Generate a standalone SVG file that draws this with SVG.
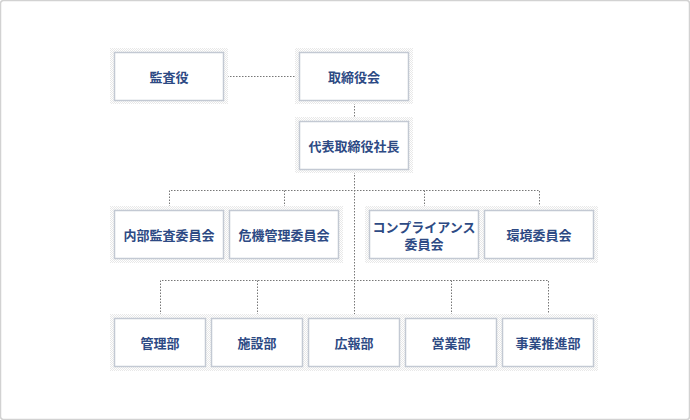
<svg xmlns="http://www.w3.org/2000/svg" width="690" height="420" viewBox="0 0 690 420">
<defs>
<pattern id="chk" width="2" height="2" patternUnits="userSpaceOnUse">
<rect width="2" height="2" fill="#ffffff"/>
<rect width="1" height="1" fill="#e8e8e8"/>
<rect x="1" y="1" width="1" height="1" fill="#e8e8e8"/>
</pattern>
</defs>
<style>
.panel{fill:url(#chk);}
.box{fill:#ffffff;stroke:#c3c9d3;stroke-width:1.5;}
.lbl{font-family:"Noto Sans CJK JP","Noto Sans CJK SC",sans-serif;font-size:13px;font-weight:bold;fill:#2d4a84;text-anchor:middle;dominant-baseline:central;}
.con{fill:none;stroke:#777777;stroke-width:1;stroke-dasharray:1.5 1.5;}
</style>
<rect x="0.5" y="0.5" width="689" height="419" rx="3" fill="#ffffff" stroke="#d2d2d2" stroke-width="1.5"/>
<g id="connectors">
<path class="con" d="M224,76.5 H299"/>
<path class="con" d="M354.5,100 V121"/>
<path class="con" d="M354.5,169 V318"/>
<path class="con" d="M169.5,210 V190.5 H539.5 V210"/>
<path class="con" d="M284.5,190.5 V210"/>
<path class="con" d="M424.5,190.5 V210"/>
<path class="con" d="M160.5,318 V280.5 H548.5 V318"/>
<path class="con" d="M257.5,280.5 V318"/>
<path class="con" d="M451.5,280.5 V318"/>
</g>
<g id="panels">
<rect class="panel" x="110" y="48" width="118" height="56"/>
<rect class="panel" x="295" y="48" width="118" height="56"/>
<rect class="panel" x="295" y="117" width="118" height="56"/>
<rect class="panel" x="110" y="206" width="233" height="57"/>
<rect class="panel" x="365" y="206" width="233" height="57"/>
<rect class="panel" x="110" y="314" width="488" height="57"/>
</g>
<g id="n-kansayaku"><rect class="box" x="114.5" y="52.5" width="109" height="48"/><text class="lbl" x="169" y="76.5">監査役</text></g>
<g id="n-torishimariyakukai"><rect class="box" x="299.5" y="52.5" width="109" height="48"/><text class="lbl" x="354" y="76.5">取締役会</text></g>
<g id="n-daihyo"><rect class="box" x="299.5" y="121.5" width="109" height="48"/><text class="lbl" x="354" y="145.5">代表取締役社長</text></g>
<g id="n-naibukansa"><rect class="box" x="114.5" y="210.5" width="109" height="48"/><text class="lbl" x="169" y="234.5">内部監査委員会</text></g>
<g id="n-kiki"><rect class="box" x="229.5" y="210.5" width="109" height="48"/><text class="lbl" x="284" y="234.5">危機管理委員会</text></g>
<g id="n-compliance"><rect class="box" x="369.5" y="210.5" width="109" height="48"/><text class="lbl" x="424" y="226">コンプライアンス</text><text class="lbl" x="424" y="243.5">委員会</text></g>
<g id="n-kankyo"><rect class="box" x="484.5" y="210.5" width="109" height="48"/><text class="lbl" x="539" y="234.5">環境委員会</text></g>
<g id="n-kanri"><rect class="box" x="114.5" y="318.5" width="91" height="48"/><text class="lbl" x="160" y="342.5">管理部</text></g>
<g id="n-shisetsu"><rect class="box" x="211.5" y="318.5" width="91" height="48"/><text class="lbl" x="257" y="342.5">施設部</text></g>
<g id="n-koho"><rect class="box" x="308.5" y="318.5" width="91" height="48"/><text class="lbl" x="354" y="342.5">広報部</text></g>
<g id="n-eigyo"><rect class="box" x="405.5" y="318.5" width="91" height="48"/><text class="lbl" x="451" y="342.5">営業部</text></g>
<g id="n-jigyo"><rect class="box" x="502.5" y="318.5" width="91" height="48"/><text class="lbl" x="548" y="342.5">事業推進部</text></g>
</svg>
